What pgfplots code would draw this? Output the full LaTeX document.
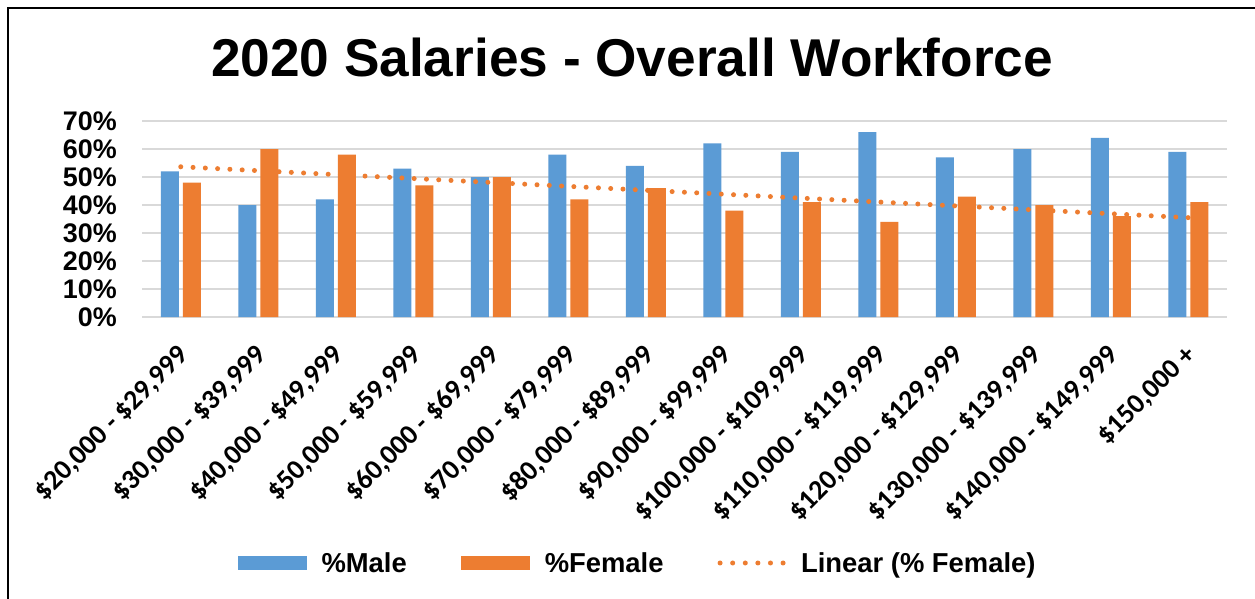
\documentclass[border=0pt]{standalone}
\usepackage{pgfplots}
\pgfplotsset{compat=1.18}
\usepackage{pgfplotstable}
\usepackage{fontspec}
\setmainfont{Liberation Sans}
\newfontfamily\carlito{Carlito}
\definecolor{mblue}{HTML}{5B9BD5}
\definecolor{morange}{HTML}{ED7D31}
\definecolor{gridgray}{HTML}{D9D9D9}

\pgfplotstableread{
x M F
1 52 48
2 40 60
3 42 58
4 53 47
5 50 50
6 58 42
7 54 46
8 62 38
9 59 41
10 66 34
11 57 43
12 60 40
13 64 36
14 59 41
}\salaries

\begin{document}
\begin{tikzpicture}[x=1bp,y=1bp]
\useasboundingbox (0,0) rectangle (1255,-599);
\fill[white] (0,0) rectangle (1255,-599);
\draw[line width=2.5bp] (8,-599) -- (8,-8) -- (1255,-8);
\node[anchor=base, inner sep=0pt, font=\bfseries\fontsize{53.4}{60}\selectfont] at (632,-77) {2020 Salaries - Overall Workforce};
\begin{axis}[
  at={(142bp,-317bp)}, anchor=south west,
  scale only axis, width=1085bp, height=196bp,
  xmin=0.5, xmax=14.5, ymin=0, ymax=70,
  axis line style={draw=none},
  ymajorgrids, major grid style={gridgray, line width=1.5bp},
  major tick length=0pt,
  ytick={0,10,...,70},
  yticklabels={0\%,10\%,20\%,30\%,40\%,50\%,60\%,70\%},
  yticklabel style={font=\bfseries\fontsize{27}{30}\selectfont, inner sep=0pt, anchor=east, xshift=-25bp},
  xtick={1,...,14},
  xticklabels={{\$20,000 - \$29,999},{\$30,000 - \$39,999},{\$40,000 - \$49,999},{\$50,000 - \$59,999},{\$60,000 - \$69,999},{\$70,000 - \$79,999},{\$80,000 - \$89,999},{\$90,000 - \$99,999},{\$100,000 - \$109,999},{\$110,000 - \$119,999},{\$120,000 - \$129,999},{\$130,000 - \$139,999},{\$140,000 - \$149,999},{\$150,000 +}},
  xticklabel style={font=\carlito\bfseries\fontsize{28}{30}\selectfont, inner sep=0pt, xshift=-4bp, yshift=-26bp, rotate=45, anchor=north east},
  legend style={at={(0.4558,-1.2551)}, anchor=center, draw=none, fill=none, legend columns=3,
    font=\bfseries\fontsize{27.5}{30}\selectfont, inner sep=0pt, nodes={inner sep=0pt},
    /tikz/every odd column/.append style={column sep=15bp},
    /tikz/every even column/.append style={column sep=54bp}},
  legend cell align=left,
]
\addplot[ybar, bar width=18bp, bar shift=-11bp, fill=mblue, draw=none,
  legend image code/.code={\fill[mblue] (0bp,-7bp) rectangle (69bp,7bp);}]
  table[x=x, y=M] {\salaries};
\addlegendentry{\%Male}
\addplot[ybar, bar width=18bp, bar shift=11bp, fill=morange, draw=none,
  legend image code/.code={\fill[morange] (0bp,-7bp) rectangle (69bp,7bp);}]
  table[x=x, y=F] {\salaries};
\addlegendentry{\%Female}
\addplot[morange, line width=5bp, dash pattern=on 0bp off 12.3bp, line cap=round, mark=none,
  legend image code/.code={\draw[morange, line width=5bp, dash pattern=on 0bp off 12.6bp, line cap=round] (2.5bp,0bp) -- (66bp,0bp);}]
  table[x=x, y={create col/linear regression={y=F}}] {\salaries};
\addlegendentry{Linear (\% Female)}
\end{axis}
\end{tikzpicture}
\end{document}
